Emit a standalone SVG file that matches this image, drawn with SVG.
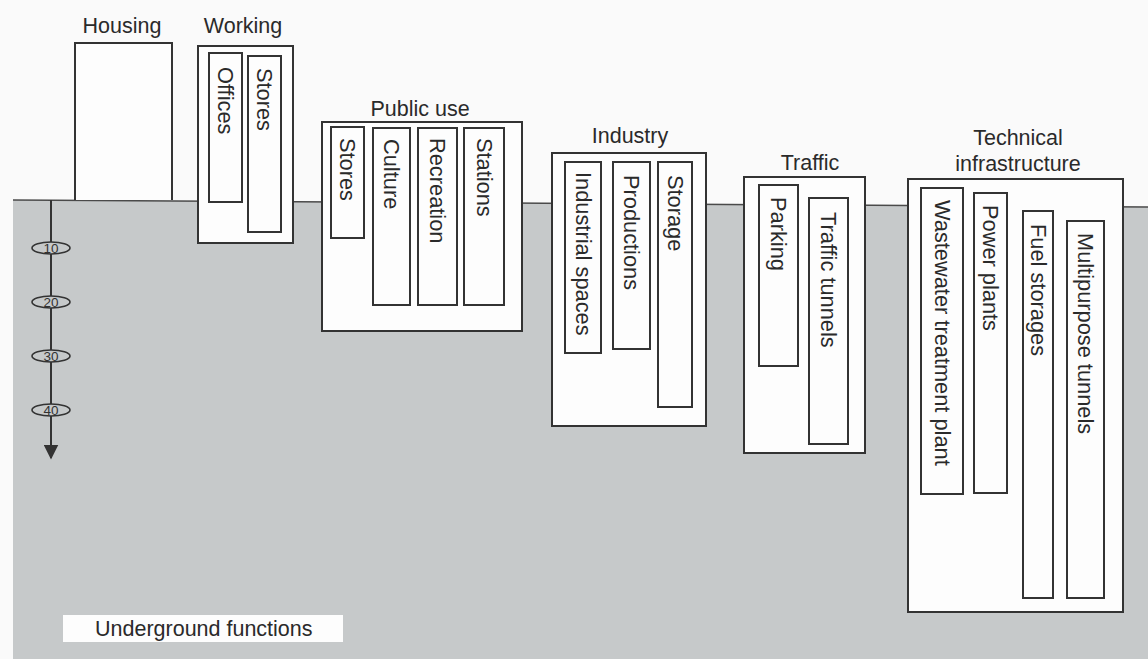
<svg xmlns="http://www.w3.org/2000/svg" width="1148" height="659" viewBox="0 0 1148 659">
<defs>
<style>
.bg{fill:#fafafa}
.ground{fill:#c6c9ca}
.gline{fill:none;stroke:#4a4a4a;stroke-width:1.5}
.box{fill:#fdfdfd;stroke:#333;stroke-width:2}
.inner{fill:#fdfdfd;stroke:#333;stroke-width:2}
.t{font-family:"Liberation Sans",Arial,sans-serif;font-size:21.5px;fill:#2a2a2a}
.h{text-anchor:middle}
.v{dominant-baseline:central;font-size:21.8px}
.tick{fill:#c6c9ca;stroke:#333;stroke-width:1.6}
.tn{font-family:"Liberation Sans",Arial,sans-serif;font-size:13.5px;fill:#333;text-anchor:middle;dominant-baseline:central}
.axis{stroke:#333;stroke-width:2;fill:none}
</style>
<marker id="arr" viewBox="0 0 10 10" refX="9" refY="5" markerWidth="15" markerHeight="15" markerUnits="userSpaceOnUse" orient="auto">
<path d="M0,0 L10,5 L0,10 z" fill="#333"/>
</marker>
</defs>
<rect class="bg" x="0" y="0" width="1148" height="659"/>
<g id="ground">
<polygon class="ground" points="13,200 1148,207 1148,659 13,659"/>
<line class="gline" x1="13" y1="200" x2="1148" y2="207"/>
</g>

<g id="housing">
<text class="t h" x="122" y="33">Housing</text>
<path class="box" d="M75,200 L75,43 L172,43 L172,200"/>
</g>

<g id="working">
<text class="t h" x="243" y="33">Working</text>
<rect class="box" x="198" y="46" width="95" height="197"/>
<rect class="inner" x="209" y="53" width="33" height="149"/>
<text class="t v" transform="translate(225.5,67) rotate(90)">Offices</text>
<rect class="inner" x="248" y="56" width="33" height="176"/>
<text class="t v" transform="translate(264.5,68) rotate(90)">Stores</text>
</g>

<g id="public-use">
<text class="t h" x="420" y="116">Public use</text>
<rect class="box" x="322" y="122" width="200" height="209"/>
<rect class="inner" x="331" y="127" width="33" height="111"/>
<text class="t v" transform="translate(347.5,138) rotate(90)">Stores</text>
<rect class="inner" x="373" y="128" width="37" height="177"/>
<text class="t v" transform="translate(391.5,139) rotate(90)">Culture</text>
<rect class="inner" x="418" y="128" width="39" height="177"/>
<text class="t v" transform="translate(437.5,138) rotate(90)">Recreation</text>
<rect class="inner" x="464" y="128" width="40" height="177"/>
<text class="t v" transform="translate(484,138) rotate(90)">Stations</text>
</g>

<g id="industry">
<text class="t h" x="630" y="143">Industry</text>
<rect class="box" x="552" y="153" width="154" height="273"/>
<rect class="inner" x="565" y="162" width="36" height="191"/>
<text class="t v" transform="translate(583,172) rotate(90)">Industrial spaces</text>
<rect class="inner" x="613" y="162" width="37" height="187"/>
<text class="t v" transform="translate(631.5,175) rotate(90)">Productions</text>
<rect class="inner" x="658" y="162" width="34" height="245"/>
<text class="t v" transform="translate(675,175) rotate(90)">Storage</text>
</g>

<g id="traffic">
<text class="t h" x="810" y="170">Traffic</text>
<rect class="box" x="744" y="177" width="121" height="276"/>
<rect class="inner" x="759" y="185" width="39" height="181"/>
<text class="t v" transform="translate(778.5,197) rotate(90)">Parking</text>
<rect class="inner" x="809" y="198" width="39" height="246"/>
<text class="t v" transform="translate(828.5,212) rotate(90)">Traffic tunnels</text>
</g>

<g id="technical-infrastructure">
<text class="t h" x="1018" y="145">Technical</text>
<text class="t h" x="1018" y="171">infrastructure</text>
<rect class="box" x="908" y="179" width="215" height="433"/>
<rect class="inner" x="921" y="188" width="42" height="306"/>
<text class="t v" transform="translate(942,200) rotate(90)">Wastewater treatment plant</text>
<rect class="inner" x="974" y="193" width="33" height="300"/>
<text class="t v" transform="translate(990.5,205) rotate(90)">Power plants</text>
<rect class="inner" x="1023" y="211" width="30" height="387"/>
<text class="t v" transform="translate(1038,224) rotate(90)">Fuel storages</text>
<rect class="inner" x="1067" y="221" width="37" height="377"/>
<text class="t v" transform="translate(1085.5,233) rotate(90)">Multipurpose tunnels</text>
</g>

<g id="depth-scale">
<line class="axis" x1="51" y1="200" x2="51" y2="458" marker-end="url(#arr)"/>
<ellipse class="tick" cx="51" cy="248" rx="19" ry="6"/>
<text class="tn" x="51" y="248">10</text>
<ellipse class="tick" cx="51" cy="302" rx="19" ry="6"/>
<text class="tn" x="51" y="302">20</text>
<ellipse class="tick" cx="51" cy="356" rx="19" ry="6"/>
<text class="tn" x="51" y="356">30</text>
<ellipse class="tick" cx="51" cy="410" rx="19" ry="6"/>
<text class="tn" x="51" y="410">40</text>
</g>

<g id="caption">
<rect x="63" y="615" width="280" height="27" fill="#fdfdfd"/>
<text class="t" x="95" y="636">Underground functions</text>
</g>
</svg>
